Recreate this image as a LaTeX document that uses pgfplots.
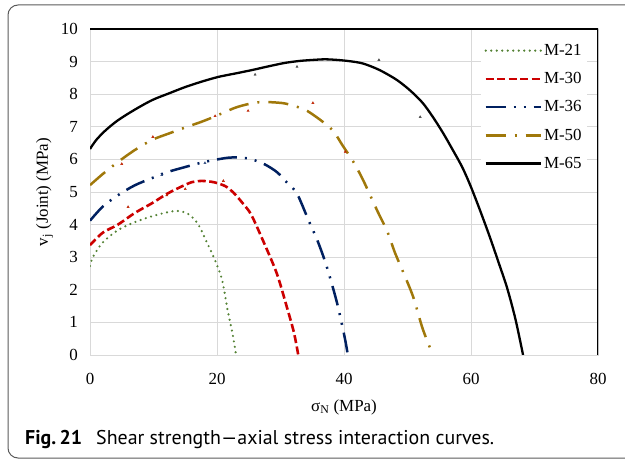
\documentclass[border=0pt]{standalone}
\usepackage{pgfplots}
\pgfplotsset{compat=1.18}
\usepackage{fontspec}
\setmainfont{Liberation Serif}
\newfontfamily\capfont{PT Sans}
\definecolor{cgreen}{RGB}{84,130,53}
\definecolor{cred}{RGB}{204,0,0}
\definecolor{cblue}{RGB}{0,32,96}
\definecolor{cgold}{RGB}{160,120,10}
\definecolor{gridgray}{RGB}{217,217,217}
\definecolor{framegray}{RGB}{90,90,90}
\pgfplotsset{longlegend/.style={legend image code/.code={\draw[##1] (0bp,0bp) -- (55bp,0bp);}}}
\begin{document}
\begin{tikzpicture}
\useasboundingbox (0bp,0bp) rectangle (625bp,459bp);
\draw[framegray, line width=1bp, rounded corners=10bp] (640bp,454bp) -- (8bp,454bp) -- (8bp,1bp) -- (640bp,1bp);
\begin{axis}[
  at={(90bp,104bp)}, anchor=south west,
  scale only axis, width=508bp, height=326bp,
  xmin=0, xmax=80, ymin=0, ymax=10,
  xtick={0,20,40,60,80}, ytick={0,1,2,3,4,5,6,7,8,9,10},
  grid=major, grid style={color=gridgray, line width=0.9bp},
  axis line style={draw=gridgray, line width=0.9bp},
  major tick length=0pt,
  /pgf/number format/assume math mode=true,
  tick label style={font=\fontsize{17}{17}\selectfont},
  xticklabel style={anchor=base, inner sep=0pt, yshift=-30bp},
  yticklabel style={anchor=east, inner sep=0pt, xshift=-12bp},
  xlabel={σ\textsubscript{N} (MPa)},
  ylabel={v\textsubscript{j} (Joint) (MPa)},
  every axis x label/.style={at={(rel axis cs:0.5,0)}, anchor=base, inner sep=0pt, yshift=-56bp, font=\fontsize{17}{17}\selectfont},
  every axis y label/.style={at={(axis description cs:-0.0827,0.5)}, anchor=base, rotate=90, inner sep=0pt, font=\fontsize{17}{17}\selectfont},
  legend style={at={(rel axis cs:0.978,0.966)}, anchor=north east, draw=none, fill=white,
    font=\fontsize{17}{17}\selectfont, row sep=11.5bp},
]
\addplot[longlegend, cgreen, line width=2.4bp, line cap=round, dash pattern=on 0bp off 5.5bp, smooth, tension=0.5] coordinates {
(0,2.73)(0.5,3.02)(2,3.45)(4.4,3.83)(7,4.07)(10,4.27)(13.5,4.42)(15.5,4.32)(17,4.02)(18.3,3.5)(19.7,2.9)(20.8,2.3)(21.7,1.35)(22.5,0.6)(23,0)};
\addlegendentry{M-21}
\addplot[longlegend, cred, line width=2.6bp, dash pattern=on 8bp off 3.5bp, smooth, tension=0.5] coordinates {
(0,3.37)(2,3.75)(4.4,4.0)(7,4.35)(9.8,4.66)(12,4.93)(13.9,5.12)(16,5.3)(17.6,5.34)(19.5,5.3)(21.3,5.18)(22.6,4.98)(24.2,4.62)(25.4,4.3)(27.2,3.53)(29.4,2.51)(31,1.47)(32.1,0.7)(32.8,0)};
\addlegendentry{M-30}
\addplot[longlegend, cblue, line width=2.5bp, dash pattern=on 20bp off 8bp on 2bp off 8bp on 2bp off 8bp, smooth, tension=0.5] coordinates {
(0,4.12)(2,4.55)(4.4,4.9)(7,5.2)(9.8,5.43)(12,5.6)(14.5,5.74)(18,5.92)(21.7,6.05)(24,6.05)(25.5,6.0)(27.5,5.85)(29.5,5.6)(31.2,5.25)(32.6,4.95)(34.4,4.14)(35.9,3.47)(37.3,2.7)(38.9,1.6)(40.1,0.55)(40.6,0)};
\addlegendentry{M-36}
\addplot[longlegend, cgold, line width=2.5bp, dash pattern=on 20bp off 9bp on 2bp off 9bp, smooth, tension=0.5] coordinates {
(0,5.21)(2,5.55)(4.4,5.92)(7,6.28)(9.8,6.6)(12.5,6.8)(15,6.98)(17.5,7.15)(19.7,7.32)(22.8,7.58)(25,7.7)(27.1,7.76)(30.2,7.73)(32,7.65)(33.9,7.52)(35.5,7.32)(37,7.1)(38.4,6.85)(39.8,6.42)(41.4,5.95)(43,5.37)(45.3,4.4)(46.8,3.8)(48,3.15)(49.3,2.55)(50.9,1.78)(52.4,0.8)(54,0)};
\addlegendentry{M-50}
\addplot[longlegend, black, line width=2.3bp, smooth, tension=0.5] coordinates {
(0,6.32)(1,6.6)(2.5,6.9)(4.4,7.2)(7,7.52)(9.8,7.82)(12.5,8.03)(15,8.22)(17.5,8.38)(20.2,8.53)(23,8.64)(25.5,8.74)(28,8.85)(30.7,8.96)(33,9.02)(35,9.05)(37,9.07)(39,9.05)(41,9.01)(43,8.94)(45.5,8.75)(48.3,8.44)(50.5,8.1)(52.4,7.73)(54,7.3)(55.6,6.81)(57.1,6.3)(58.6,5.77)(59.9,5.2)(61.4,4.45)(63,3.6)(64.5,2.75)(65.7,2.05)(67,1.1)(68.2,0)};
\addlegendentry{M-65}
\addplot[only marks, forget plot, mark=triangle*, mark size=1.3bp, color=black!70] coordinates {
(26,8.6)(32.6,8.84)(45.5,9.05)(52,7.3)};
\addplot[only marks, forget plot, mark=triangle*, mark size=1.3bp, color=cred!70!cgold] coordinates {
(5,5.86)(9.9,6.69)(19.7,7.33)(24.9,7.49)(35.1,7.73)(40.2,6.23)(6,4.54)(12.1,4.9)(15,5.09)(21,5.34)};
\addplot[only marks, forget plot, mark=triangle*, mark size=1.2bp, color=cblue!80] coordinates {
(11.3,5.52)(18.1,5.89)};
\draw[black, line width=1.3bp] (rel axis cs:0,1) -- (rel axis cs:1,1) -- (rel axis cs:1,0);
\end{axis}
\node[anchor=base west, inner sep=0pt] at (25bp,15bp) {\capfont\fontsize{20}{20}\selectfont\textbf{Fig.\,21}\hspace{14bp}Shear strength—axial stress interaction curves.};
\end{tikzpicture}
\end{document}
